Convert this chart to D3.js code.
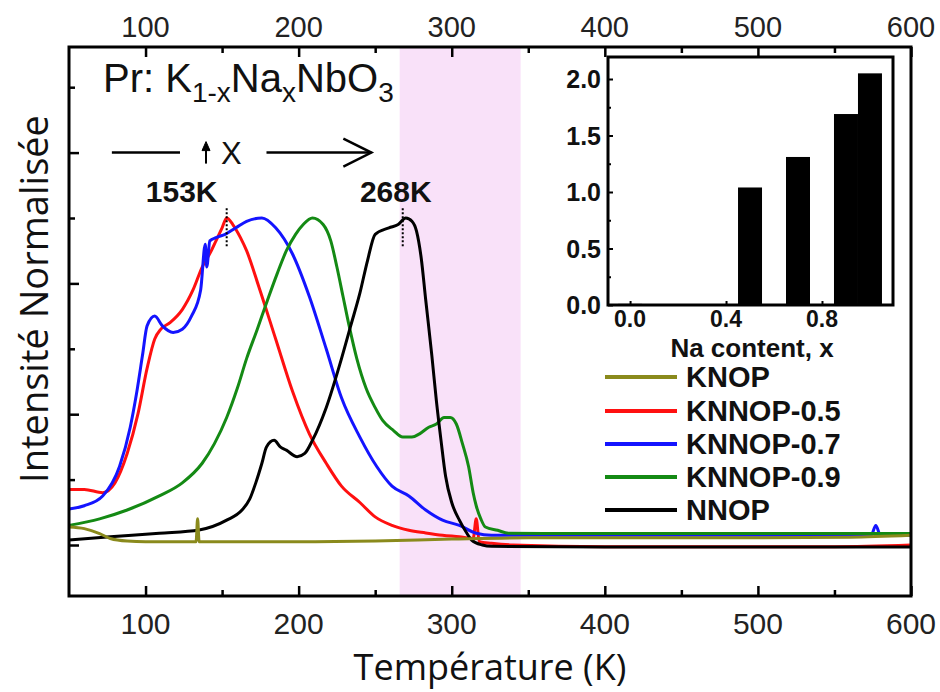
<!DOCTYPE html>
<html><head><meta charset="utf-8">
<script src="https://cdn.jsdelivr.net/npm/d3@7/dist/d3.min.js"></script>
<style>
html,body{margin:0;padding:0;background:#fff;}
svg{display:block;}
</style></head>
<body>
<svg id="chart" width="940" height="692"></svg>
<script>
// ---------------- DATA ----------------
const seriesNames = ["KNOP", "KNNOP-0.5", "KNNOP-0.7", "KNNOP-0.9", "NNOP"];
const seriesColors = ["#8a8a1c", "#ff1010", "#1414ff", "#148a14", "#000000"];

const tempKNOP = [50, 60, 70, 77, 88, 100, 120, 133, 134, 135, 137, 160, 200, 250, 300, 350, 400, 500, 560, 600];
const intKNOP  = [0.055, 0.05, 0.035, 0.02, 0.012, 0.01, 0.01, 0.01, 0.08, 0.01, 0.01, 0.01, 0.01, 0.012, 0.018, 0.022, 0.022, 0.022, 0.024, 0.03];

const tempKNNOP05 = [50, 60, 72, 80, 88, 95, 101, 106, 110, 116, 124, 131, 137, 143, 146, 150, 153, 157, 162, 166, 174, 185, 196, 207, 218, 228, 240, 250, 261, 272, 283, 294, 305, 314, 316, 318, 326, 340, 400, 450, 500, 550, 600];
const intKNNOP05  = [0.17, 0.17, 0.16, 0.19, 0.28, 0.40, 0.54, 0.63, 0.66, 0.68, 0.72, 0.78, 0.85, 0.90, 0.93, 0.97, 1.0, 0.98, 0.94, 0.90, 0.79, 0.63, 0.47, 0.34, 0.25, 0.18, 0.13, 0.086, 0.06, 0.045, 0.037, 0.03, 0.025, 0.02, 0.08, 0.01, 0.005, 0.0, -0.005, -0.005, -0.005, -0.005, 0.0];

const tempKNNOP07 = [50, 60, 72, 83, 90, 94, 98, 101, 106, 111, 118, 124, 130, 136, 139, 140, 142, 146, 152, 159, 166, 176, 185, 196, 207, 218, 228, 240, 251, 261, 272, 283, 294, 305, 316, 326, 340, 400, 500, 574, 577, 580, 600];
const intKNNOP07  = [0.11, 0.12, 0.15, 0.24, 0.36, 0.46, 0.58, 0.67, 0.70, 0.67, 0.65, 0.66, 0.70, 0.78, 0.92, 0.85, 0.93, 0.94, 0.95, 0.97, 0.99, 1.0, 0.97, 0.89, 0.76, 0.60, 0.45, 0.33, 0.24, 0.18, 0.15, 0.107, 0.076, 0.06, 0.036, 0.03, 0.03, 0.03, 0.03, 0.03, 0.06, 0.03, 0.03];

const tempKNNOP09 = [50, 70, 88, 109, 124, 137, 145, 153, 160, 166, 173, 179, 186, 192, 198, 203, 209, 216, 221, 225, 229, 233, 238, 244, 250, 255, 262, 268, 274, 279, 285, 290, 295, 299, 303, 307, 311, 314, 316, 319, 322, 330, 337, 360, 400, 500, 600];
const intKNNOP09  = [0.06, 0.08, 0.107, 0.15, 0.19, 0.25, 0.31, 0.39, 0.48, 0.57, 0.66, 0.74, 0.83, 0.90, 0.95, 0.98, 1.0, 0.98, 0.93, 0.85, 0.76, 0.67, 0.57, 0.48, 0.42, 0.38, 0.35, 0.33, 0.33, 0.34, 0.36, 0.37, 0.39, 0.39, 0.37, 0.31, 0.24, 0.16, 0.12, 0.08, 0.055, 0.045, 0.036, 0.035, 0.035, 0.035, 0.035];

const tempNNOP = [50, 77, 109, 135, 153, 163, 168, 172, 176, 179, 184, 188, 192, 199, 204, 209, 218, 228, 234, 240, 245, 250, 259, 265, 270, 274, 277, 280, 283, 287, 290, 293, 296, 300, 305, 310, 313, 320, 326, 400, 500, 600];
const intNNOP  = [0.015, 0.025, 0.036, 0.046, 0.076, 0.107, 0.14, 0.19, 0.25, 0.30, 0.32, 0.30, 0.29, 0.27, 0.28, 0.32, 0.42, 0.57, 0.67, 0.77, 0.87, 0.95, 0.97, 0.98, 1.0, 0.99, 0.96, 0.88, 0.75, 0.58, 0.44, 0.32, 0.21, 0.13, 0.076, 0.035, 0.015, 0.0, -0.004, -0.006, -0.006, -0.006];

const allTemps = [tempKNOP, tempKNNOP05, tempKNNOP07, tempKNNOP09, tempNNOP];
const allInts  = [intKNOP, intKNNOP05, intKNNOP07, intKNNOP09, intNNOP];

const xTicksMajor = [100, 200, 300, 400, 500, 600];
const xTicksMinor = [150, 250, 350, 450, 550];
const yTicksMajor = [0, 0.4, 0.8, 1.2];
const yTicksMinor = [0.2, 0.6, 1.0, 1.4];

const bandRange = [266, 345];          // shaded temperature window (K)
const peakTemps = [153, 268];
const peakLabels = ["153K", "268K"];

// inset
const naContent = [0.0, 0.5, 0.7, 0.9, 1.0];
const ratioValues = [0.01, 1.04, 1.31, 1.69, 2.05];
const insetYTicks = [0.0, 0.5, 1.0, 1.5, 2.0];
const insetYMinor = [0.25, 0.75, 1.25, 1.75];
const insetXTicks = [0.0, 0.4, 0.8];

// ---------------- LAYOUT ----------------
const svg = d3.select("#chart");
const X0 = 69, X1 = 911, Y0 = 47, Y1 = 596;
const x = d3.scaleLinear().domain([50, 600]).range([X0, X1]);
const y = d3.scaleLinear().domain([0, 1]).range([545, 218]);
const tickFont = "'Liberation Sans', Arial, sans-serif";
const peakLabelOffset = [-45, -7];

// shaded band
svg.append("rect")
  .attr("x", x(bandRange[0])).attr("y", Y0)
  .attr("width", x(bandRange[1]) - x(bandRange[0])).attr("height", Y1 - Y0)
  .attr("fill", "#f9e1f9");

// curves
const line = d3.line().x(d => x(d[0])).y(d => y(d[1])).curve(d3.curveMonotoneX);
const plot = svg.append("g");
allTemps.forEach((ts, i) => {
  const pts = ts.map((t, j) => [t, allInts[i][j]]);
  plot.append("path").datum(pts)
    .attr("d", line).attr("fill", "none")
    .attr("stroke", seriesColors[i]).attr("stroke-width", 3)
    .attr("stroke-linejoin", "round");
});
plot.select("path").raise();

// axes (ticks inward)
function axisGroup(axisFn, scale, ticks, size, transform) {
  const g = svg.append("g").attr("transform", transform)
    .call(axisFn(scale).tickValues(ticks).tickSize(size).tickFormat(""));
  g.select(".domain").remove();
  g.selectAll(".tick line").attr("stroke", "#000").attr("stroke-width", 2.5);
  return g;
}
axisGroup(d3.axisTop, x, xTicksMajor, 10, `translate(0,${Y1})`);
axisGroup(d3.axisTop, x, xTicksMinor, 6, `translate(0,${Y1})`);
axisGroup(d3.axisBottom, x, xTicksMajor, 10, `translate(0,${Y0})`);
axisGroup(d3.axisBottom, x, xTicksMinor, 6, `translate(0,${Y0})`);
axisGroup(d3.axisRight, y, yTicksMajor, 10, `translate(${X0},0)`);
axisGroup(d3.axisRight, y, yTicksMinor, 6, `translate(${X0},0)`);

// tick labels
svg.append("g").selectAll("text").data(xTicksMajor).join("text")
  .attr("x", d => x(d)).attr("y", Y1 + 38).attr("text-anchor", "middle")
  .attr("font-family", tickFont).attr("font-size", 30).attr("fill", "#222").text(d => d);
svg.append("g").selectAll("text").data(xTicksMajor).join("text")
  .attr("x", d => x(d)).attr("y", 37).attr("text-anchor", "middle")
  .attr("font-family", tickFont).attr("font-size", 29).attr("fill", "#222").text(d => d);

// frame
svg.append("rect").attr("x", X0).attr("y", Y0).attr("width", X1 - X0).attr("height", Y1 - Y0)
  .attr("fill", "none").attr("stroke", "#000").attr("stroke-width", 3);

// axis titles
svg.append("text").attr("x", 490).attr("y", 680).attr("text-anchor", "middle")
  .attr("font-family", "'Open Sans', sans-serif").attr("font-size", 36).attr("fill", "#111")
  .text("Température (K)");
svg.append("text").attr("transform", "translate(48,299) rotate(-90)").attr("text-anchor", "middle")
  .attr("font-family", "'Open Sans', sans-serif").attr("font-size", 38).attr("fill", "#111")
  .text("Intensité Normalisée");

// title formula
const tt = svg.append("text").attr("x", 103).attr("y", 92)
  .attr("font-family", tickFont).attr("font-size", 40).attr("fill", "#111");
tt.append("tspan").text("Pr: K");
tt.append("tspan").attr("dy", 10).attr("font-size", 28).text("1-x");
tt.append("tspan").attr("dy", -10).text("Na");
tt.append("tspan").attr("dy", 10).attr("font-size", 28).text("x");
tt.append("tspan").attr("dy", -10).text("NbO");
tt.append("tspan").attr("dy", 10).attr("font-size", 28).text("3");

// arrow annotation
const ay = y(1.2);
const ann = svg.append("g").attr("stroke", "#000").attr("stroke-width", 2.5).attr("fill", "none");
ann.append("line").attr("x1", x(78)).attr("x2", x(122.5)).attr("y1", ay).attr("y2", ay);
ann.append("line").attr("x1", x(179)).attr("x2", x(247.5)).attr("y1", ay).attr("y2", ay);
ann.append("path").attr("d", `M${x(247.5) - 28},${ay - 14} L${x(247.5)},${ay} L${x(247.5) - 28},${ay + 14}`);
ann.append("line").attr("x1", x(139.5)).attr("x2", x(139.5)).attr("y1", ay + 11).attr("y2", ay - 4).attr("stroke-width", 2);
ann.append("path").attr("d", `M${x(139.5) - 4},${ay - 2} L${x(139.5)},${ay - 11} L${x(139.5) + 4},${ay - 2} Z`)
  .attr("fill", "#000").attr("stroke-width", 1);
svg.append("text").attr("x", x(156)).attr("y", ay + 11).attr("text-anchor", "middle")
  .attr("font-family", tickFont).attr("font-size", 31).attr("fill", "#111").text("X");

// peak labels and dotted markers
peakTemps.forEach((t, i) => {
  svg.append("line").attr("x1", x(t)).attr("x2", x(t)).attr("y1", y(1.03)).attr("y2", y(0.91))
    .attr("stroke", "#000").attr("stroke-width", 2).attr("stroke-dasharray", "2,2");
  svg.append("text").attr("x", x(t) + peakLabelOffset[i]).attr("y", 202).attr("text-anchor", "middle")
    .attr("font-family", tickFont).attr("font-weight", "bold").attr("font-size", 30).attr("fill", "#111")
    .text(peakLabels[i]);
});

// legend
const lg = svg.append("g");
const legY = [377, 411, 444, 477, 510];
seriesNames.forEach((n, i) => {
  lg.append("line").attr("x1", 605).attr("x2", 677).attr("y1", legY[i]).attr("y2", legY[i])
    .attr("stroke", seriesColors[i]).attr("stroke-width", 4);
  lg.append("text").attr("x", 686).attr("y", legY[i] + 10)
    .attr("font-family", tickFont).attr("font-weight", "bold").attr("font-size", 29).attr("fill", "#111")
    .text(n);
});

// ---------------- INSET ----------------
const IX0 = 608, IX1 = 893, IY0 = 57, IY1 = 305;
const ix = d3.scaleLinear().domain([-0.092, 1.096]).range([IX0, IX1]);
const iy = d3.scaleLinear().domain([0, 2.2]).range([IY1, IY1 - 2.2 * 113]);
const inset = svg.append("g");
inset.append("rect").attr("x", IX0).attr("y", IY0).attr("width", IX1 - IX0).attr("height", IY1 - IY0)
  .attr("fill", "#fff");
inset.selectAll("rect.bar").data(naContent).join("rect").attr("class", "bar")
  .attr("x", d => ix(d - 0.05)).attr("width", ix(0.1) - ix(0))
  .attr("y", (d, i) => iy(ratioValues[i])).attr("height", (d, i) => iy(0) - iy(ratioValues[i]))
  .attr("fill", "#000");
const giy = inset.append("g").attr("transform", `translate(${IX0},0)`)
  .call(d3.axisRight(iy).tickValues(insetYTicks).tickSize(5).tickFormat(""));
giy.select(".domain").remove();
const giy2 = inset.append("g").attr("transform", `translate(${IX0},0)`)
  .call(d3.axisRight(iy).tickValues(insetYMinor).tickSize(3).tickFormat(""));
giy2.select(".domain").remove();
const gix = inset.append("g").attr("transform", `translate(0,${IY1})`)
  .call(d3.axisTop(ix).tickValues(insetXTicks).tickSize(4).tickFormat(""));
gix.select(".domain").remove();
inset.selectAll(".tick line").attr("stroke", "#000").attr("stroke-width", 2);
inset.append("rect").attr("x", IX0).attr("y", IY0).attr("width", IX1 - IX0).attr("height", IY1 - IY0)
  .attr("fill", "none").attr("stroke", "#000").attr("stroke-width", 3);
inset.append("g").selectAll("text").data(insetYTicks).join("text")
  .attr("x", IX0 - 7).attr("y", d => iy(d) + 9).attr("text-anchor", "end")
  .attr("font-family", tickFont).attr("font-weight", "bold").attr("font-size", 25).attr("fill", "#111")
  .text(d => d.toFixed(1));
inset.append("g").selectAll("text").data(insetXTicks).join("text")
  .attr("x", d => ix(d)).attr("y", IY1 + 22).attr("text-anchor", "middle")
  .attr("font-family", tickFont).attr("font-weight", "bold").attr("font-size", 23).attr("fill", "#111")
  .text(d => d.toFixed(1));
inset.append("text").attr("x", 752).attr("y", 357).attr("text-anchor", "middle")
  .attr("font-family", tickFont).attr("font-weight", "bold").attr("font-size", 26).attr("fill", "#111")
  .text("Na content, x");
</script>
</body></html>
